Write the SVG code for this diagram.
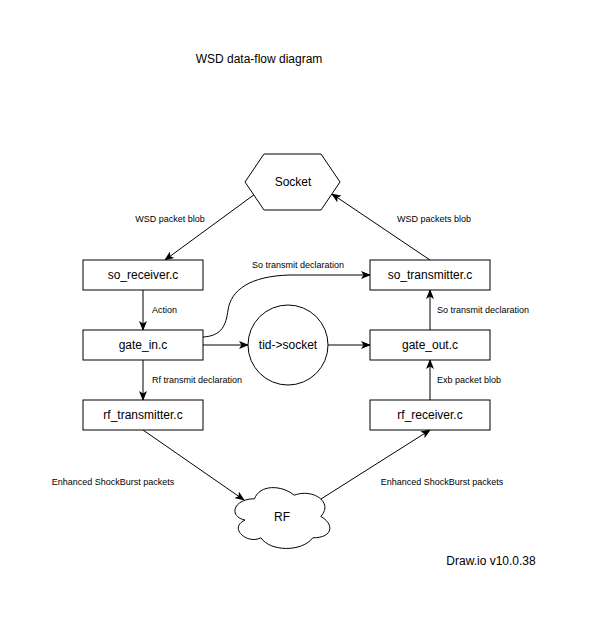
<svg xmlns="http://www.w3.org/2000/svg" width="596" height="624" viewBox="0 0 596 624">
<defs>
<style>
.n{fill:#fff;stroke:#000;stroke-width:1}
.t{font-family:"Liberation Sans",Arial,sans-serif;font-size:12px;fill:#000;text-anchor:middle;dominant-baseline:central}
.l{font-family:"Liberation Sans",Arial,sans-serif;font-size:9px;fill:#000;dominant-baseline:central}
.e{fill:none;stroke:#000;stroke-width:1;marker-end:url(#a)}
</style>
<marker id="a" viewBox="0 0 10 8" refX="9" refY="4" markerWidth="10" markerHeight="8" markerUnits="userSpaceOnUse" orient="auto">
<path d="M0,0 L10,4 L0,8 L2.5,4 Z" fill="#000"/>
</marker>
</defs>
<rect width="596" height="624" fill="#fff"/>
<text class="t" x="259" y="59">WSD data-flow diagram</text>
<g id="edges">
<path class="e" d="M255,194 L165,260"/>
<text class="l" x="170" y="219" text-anchor="middle">WSD packet blob</text>
<path class="e" d="M430,260 L332,194"/>
<text class="l" x="434" y="219" text-anchor="middle">WSD packets blob</text>
<path class="e" d="M143,290 L143,330"/>
<text class="l" x="152" y="310">Action</text>
<path class="e" d="M203,337 C222,336 226,325 228,310 C231,290 250,276 290,275 L370,275"/>
<text class="l" x="298" y="265" text-anchor="middle">So transmit declaration</text>
<path class="e" d="M203,345 L248,345"/>
<path class="e" d="M328,345 L370,345"/>
<path class="e" d="M430,330 L430,290"/>
<text class="l" x="437" y="310">So transmit declaration</text>
<path class="e" d="M143,360 L143,400"/>
<text class="l" x="152" y="380">Rf transmit declaration</text>
<path class="e" d="M143,430 L244,500"/>
<text class="l" x="113" y="482" text-anchor="middle">Enhanced ShockBurst packets</text>
<path class="e" d="M321,499 L430,430"/>
<text class="l" x="442" y="482" text-anchor="middle">Enhanced ShockBurst packets</text>
<path class="e" d="M430,400 L430,360"/>
<text class="l" x="437" y="380">Exb packet blob</text>
</g>
<g id="socket">
<polygon class="n" points="245,182 264,154 321,154 340,182 321,210 264,210"/>
<text class="t" x="293" y="182">Socket</text>
</g>
<g id="so_receiver">
<rect class="n" x="83" y="260" width="120" height="30"/>
<text class="t" x="143" y="275">so_receiver.c</text>
</g>
<g id="gate_in">
<rect class="n" x="83" y="330" width="120" height="30"/>
<text class="t" x="143" y="345">gate_in.c</text>
</g>
<g id="rf_transmitter">
<rect class="n" x="83" y="400" width="120" height="30"/>
<text class="t" x="143" y="415">rf_transmitter.c</text>
</g>
<g id="so_transmitter">
<rect class="n" x="370" y="260" width="120" height="30"/>
<text class="t" x="430" y="275">so_transmitter.c</text>
</g>
<g id="gate_out">
<rect class="n" x="370" y="330" width="120" height="30"/>
<text class="t" x="430" y="345">gate_out.c</text>
</g>
<g id="rf_receiver">
<rect class="n" x="370" y="400" width="120" height="30"/>
<text class="t" x="430" y="415">rf_receiver.c</text>
</g>
<g id="tid_socket">
<circle class="n" cx="288" cy="345" r="40"/>
<text class="t" x="288" y="345">tid-&gt;socket</text>
</g>
<g id="rf">
<path class="n" d="M254.5,498.75 C233.3,498.75 228,516.5 245,520.05 C228,527.9 247.1,544.9 260.9,537.8 C270.4,552 302.2,552 312.8,537.8 C334,537.8 334,523.6 320.75,516.5 C334,502.3 312.8,488.1 294.25,495.2 C281,484.55 259.8,484.55 254.5,498.75 Z"/>
<text class="t" x="282" y="517">RF</text>
</g>
<text class="t" x="491" y="561">Draw.io v10.0.38</text>
</svg>
